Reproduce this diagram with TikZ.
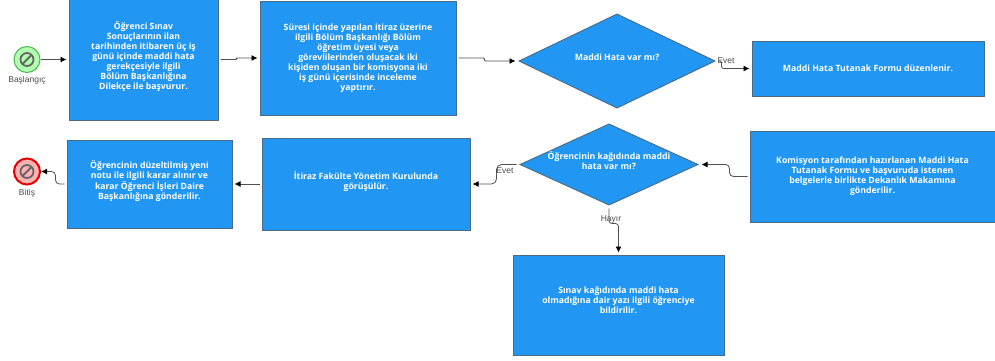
\documentclass[tikz,border=0pt]{standalone}
\usepackage{fontspec}
\usepackage{tikz}
\usetikzlibrary{arrows.meta,shapes.geometric}
\setmainfont{Open Sans}
\newfontfamily\labelfont{Liberation Sans}
\definecolor{boxblue}{HTML}{2196F3}
\definecolor{boxline}{HTML}{4A6B85}
\definecolor{flowline}{HTML}{505050}

\begin{document}
\begin{tikzpicture}[x = 1pt, y = -1pt,
            boxnode/.style = {draw = boxline, fill = boxblue, line width = 0.9pt, text = white, align = center,
                font = \fontsize{8.7}{10}\selectfont\bfseries, inner sep = 0pt, outer sep = 2.5pt},
            decision/.style = {boxnode, diamond, aspect = 2, inner sep = -8pt},
            event/.style = {circle, draw, minimum size = 26pt, inner sep = 0pt, outer sep = 1pt},
            nolabel/.style = {font = \fontsize{8.5}{10}\labelfont, text = black!70, inner sep = 0pt},
            flow/.style = {draw = flowline, line width = 0.8pt, -{Latex[length = 6pt, width = 6pt, black]}}]
            \useasboundingbox (0, 0) rectangle (995, 360);

            \node[event, fill = green!30, draw = green!60!black!70, line width = 1pt] (S) at (27, 59.5){};
            \node[event, fill = red!30, draw = red!90!black, line width = 2pt] (Z) at (27, 171.5){};
            \node[nolabel] (SL) at (27, 80){Başlangıç};
            \node[nolabel] (ZL) at (27, 193){Bitiş};

            \draw[black!60, line width = 1.8pt] (S.center) circle (6.5pt);
            \draw[black!60, line width = 1.8pt] (Z.center) circle (6.5pt);
            \draw[black!60, line width = 1.8pt] (22.5, 64) -- (31.5, 55);
            \draw[black!60, line width = 1.8pt] (22.5, 176) -- (31.5, 167);

            \node[boxnode, minimum width = 149pt, minimum height = 121pt] (A) at (143.5, 59.5)
                {Öğrenci  Sınav\\Sonuçlarının ilan\\tarihinden itibaren üç iş\\günü içinde maddi hata\\gerekçesiyle ilgili\\Bölüm Başkanlığına\\Dilekçe ile başvurur.\\[-2pt]};
            \node[boxnode, minimum width = 196pt, minimum height = 114pt] (B) at (358, 58)
                {Süresi içinde yapılan itiraz üzerine\\ilgili Bölüm Başkanlığı Bölüm\\öğretim üyesi veya\\görevlilerinden oluşacak iki\\kişiden oluşan bir komisyona iki\\iş günü içerisinde inceleme\\yaptırır.};
            \node[decision, minimum width = 198pt, minimum height = 96pt] (C) at (617, 61)
                {Maddi Hata var mı?\\[-2pt]};
            \node[boxnode, minimum width = 232pt, minimum height = 55pt] (D) at (868, 68.5)
                {Maddi Hata Tutanak Formu düzenlenir.};
            \node[boxnode, minimum width = 245pt, minimum height = 91pt] (E) at (872.5, 176.5)
                {Komisyon tarafından hazırlanan Maddi Hata\\Tutanak Formu ve başvuruda istenen\\belgelerle birlikte Dekanlık Makamına\\gönderilir.};
            \node[decision, minimum width = 180pt, minimum height = 83pt] (F) at (609, 164.5)
                {Öğrencinin kağıdında maddi\\hata var mı?\\[-2pt]};
            \node[boxnode, minimum width = 208pt, minimum height = 92pt] (G) at (366, 184)
                {İtiraz Fakülte Yönetim Kurulunda\\görüşülür.\\[-2pt]};
            \node[boxnode, minimum width = 165pt, minimum height = 88pt] (H) at (149.5, 184)
                {Öğrencinin düzeltilmiş yeni\\notu ile ilgili karar alınır ve\\karar Öğrenci İşleri Daire\\Başkanlığına gönderilir.\\[-2pt]};
            \node[boxnode, minimum width = 211pt, minimum height = 100pt] (J) at (618.5, 305)
                {Sınav kağıdında maddi hata\\olmadığına dair yazı ilgili öğrenciye\\bildirilir.\\[0pt]};

            \draw[flow] (S.east) -- (A.west);
            \draw[flow, rounded corners = 1pt] (A.east) -- ++(16, 0) |- (B.west);
            \draw[flow, rounded corners = 1pt] (B.east) -- ++(26, 0) |- (C.west);
            \draw[flow, rounded corners = 2pt] (C.east) -- ++(3, 0) |- (D.west);
            \draw[flow, rounded corners = 4pt] (E.west) -- ++(-18, 0) |- (F.east);
            \draw[flow, rounded corners = 5pt] (F.west) -- ++(-20, 0) |- (G.east);
            \draw[flow] (G.west) -- (H.east);
            \draw[flow, rounded corners = 4pt] (H.west) -- ++(-9, 0) |- (Z.east);
            \draw[flow, rounded corners = 3pt] (F.south) -- ++(0, 15) -| (J.north);

            \node[nolabel] (CD) at (726, 61){Evet};
            \node[nolabel] (FG) at (505, 171){Evet};
            \node[nolabel] (FJ) at (611, 219){Hayır};
        \end{tikzpicture}
\end{document}
